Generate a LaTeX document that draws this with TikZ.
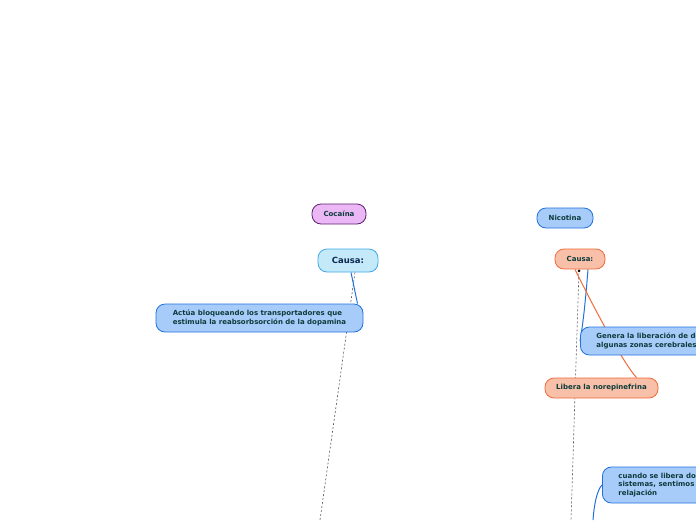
\documentclass[tikz,border=0pt]{standalone}
\usepackage{fontspec}
\setmainfont{DejaVu Sans}
\usetikzlibrary{backgrounds}
\definecolor{bfill}{HTML}{A8CCFA}
\definecolor{bdraw}{HTML}{2070E0}
\definecolor{lbfill}{HTML}{C4EAFA}
\definecolor{lbdraw}{HTML}{40A8E8}
\definecolor{pfill}{HTML}{EBB8F5}
\definecolor{pdraw}{HTML}{602070}
\definecolor{sfill}{HTML}{F8C0A8}
\definecolor{sdraw}{HTML}{F06A3A}
\definecolor{txt}{HTML}{0C3B3B}
\definecolor{navy}{HTML}{0A2A50}
\definecolor{dash}{HTML}{555555}
\begin{document}
\begin{tikzpicture}[x=1pt,y=-1pt,
  topic/.style={rounded corners=9pt, line width=0.8pt, inner xsep=0pt, inner ysep=0pt,
    font=\bfseries\fontsize{7}{9}\selectfont, text=txt, align=left},
  bluebox/.style={topic, fill=bfill, draw=bdraw},
  lbluebox/.style={topic, fill=lbfill, draw=lbdraw},
  purplebox/.style={topic, fill=pfill, draw=pdraw},
  salmonbox/.style={topic, fill=sfill, draw=sdraw},
  blueline/.style={draw=bdraw, line width=1pt},
  orangeline/.style={draw=sdraw, line width=1pt},
  dashline/.style={draw=dash, line width=0.6pt, dash pattern=on 2pt off 2pt}]
\useasboundingbox (0,0) rectangle (696,520);
\clip (0,0) rectangle (696,520);

% left branch
\node[purplebox, minimum width=54pt, minimum height=20pt] (coca) at (339,214) {Cocaína};
\node[lbluebox, minimum width=60pt, minimum height=23pt, text=navy,
  font=\bfseries\fontsize{8.5}{10}\selectfont] (causaL) at (348,260.5) {Causa:};
\node[bluebox, minimum width=207pt, minimum height=28pt, inner xsep=16pt] (actua) at (259.5,318)
  {Actúa bloqueando los transportadores que\\estimula la reabsorbsorción de la dopamina};
\coordinate (dashLend) at (320,520);

% right branch
\node[bluebox, minimum width=56pt, minimum height=20pt] (nico) at (565,218) {Nicotina};
\node[salmonbox, minimum width=50pt, minimum height=20pt] (causaR) at (580,259) {Causa:};
\node[bluebox, anchor=west, minimum height=28pt, inner xsep=16pt] (genera) at (580,341)
  {Genera la liberación de dopamina en\\algunas zonas cerebrales};
\node[salmonbox, minimum width=113pt, minimum height=20pt] (libera) at (601.5,388) {Libera la norepinefrina};
\node[bluebox, anchor=west, minimum height=36pt, inner xsep=16pt,
  font=\bfseries\fontsize{7}{8.5}\selectfont] (cuando) at (602,485)
  {cuando se libera dopamina en estos\\sistemas, sentimos placer y\\relajación};
\coordinate (dashRend) at (571,520);
\coordinate (cuandoEnd) at (593,520);

\begin{scope}[on background layer]
\draw[dashline] ([xshift=7pt]causaL.south) -- (dashLend);
\draw[blueline] ([xshift=3pt]causaL.south) -- ([xshift=98pt]actua.north);
\draw[dashline] ([xshift=-1pt]causaR.south) -- (dashRend);
\fill[black] ([xshift=-1pt,yshift=-1.5pt]causaR.south) circle (1.4pt);
\draw[blueline] ([xshift=8pt]causaR.south) .. controls (584,320) and (581,335) .. (genera.west);
\draw[orangeline] ([xshift=-5pt]causaR.south) .. controls (600,320) and (625,365) .. ([xshift=35pt]libera.north);
\draw[blueline] (cuando.west) .. controls (597,490) and (594,505) .. (cuandoEnd);
\end{scope}
\end{tikzpicture}
\end{document}
